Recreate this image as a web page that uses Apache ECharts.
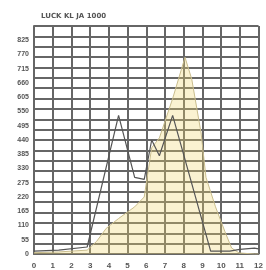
<!DOCTYPE html>
<html>
<head>
<meta charset="utf-8">
<script src="https://cdn.jsdelivr.net/npm/echarts@6/dist/echarts.min.js"></script>
<style>html,body{margin:0;padding:0;background:#fff}#c{width:266px;height:270px}</style>
</head>
<body>
<div id="c"></div>
<script>
const titleText = "LUCK KL JA 1000";
const lineX = [0, 1.32, 2.84, 4.52, 5.38, 5.89, 6.29, 6.70, 7.41, 9.44, 10.46, 11.0, 11.78, 12];
const lineY = [11, 15, 27, 535, 296, 288, 440, 379, 535, 11, 11, 18, 23, 20];
const areaX = [0, 1.32, 2.84, 3.35, 3.86, 4.52, 5.38, 5.89, 6.29, 6.70, 7.41, 8.07, 8.43, 8.93, 9.19, 9.70, 10.2, 10.56, 10.96, 11.78, 12];
const areaY = [5, 8, 15, 49, 99, 137, 182, 220, 410, 448, 600, 759, 675, 467, 296, 182, 87, 23, 4, 0, 0];

const pair = (xs, ys) => xs.map((x, i) => [x, ys[i]]);
const chart = echarts.init(document.getElementById('c'), null, {renderer: 'canvas'});
const gridColor = '#666666';
chart.setOption({
  animation: false,
  backgroundColor: '#ffffff',
  title: {text: titleText, left: 36, top: 8, textStyle: {fontSize: 7, fontWeight: 'bold', color: '#555', fontFamily: 'DejaVu Sans'}},
  grid: {left: 34, right: -5, top: 26, bottom: 12},
  xAxis: {
    type: 'value', min: 0, max: 12, interval: 1,
    axisLine: {lineStyle: {color: gridColor, width: 2}},
    axisTick: {show: false},
    axisLabel: {fontSize: 8, color: '#555', fontWeight: 'bold', margin: 8},
    splitLine: {show: true, lineStyle: {color: gridColor, width: 2}}
  },
  yAxis: [{
    type: 'value', min: 0, max: 880, interval: 55,
    axisLine: {show: true, lineStyle: {color: gridColor, width: 2}},
    axisTick: {show: false},
    axisLabel: {fontSize: 7, color: '#555', fontWeight: 'bold', showMaxLabel: false, margin: 5},
    splitLine: {show: false}
  }, {
    type: 'value', min: 0, max: 880, interval: 40, position: 'left',
    axisLine: {show: false}, axisTick: {show: false}, axisLabel: {show: false},
    splitLine: {show: true, lineStyle: {color: gridColor, width: 2}}
  }],
  series: [{
    type: 'line', data: pair(areaX, areaY), symbol: 'none', yAxisIndex: 0,
    lineStyle: {color: '#c9bd8e', width: 1},
    areaStyle: {color: 'rgba(240,214,110,0.45)'}
  }, {
    type: 'line', data: pair(lineX, lineY), symbol: 'none', yAxisIndex: 0,
    lineStyle: {color: '#555', width: 1.2}
  }]
});
</script>
</body>
</html>
